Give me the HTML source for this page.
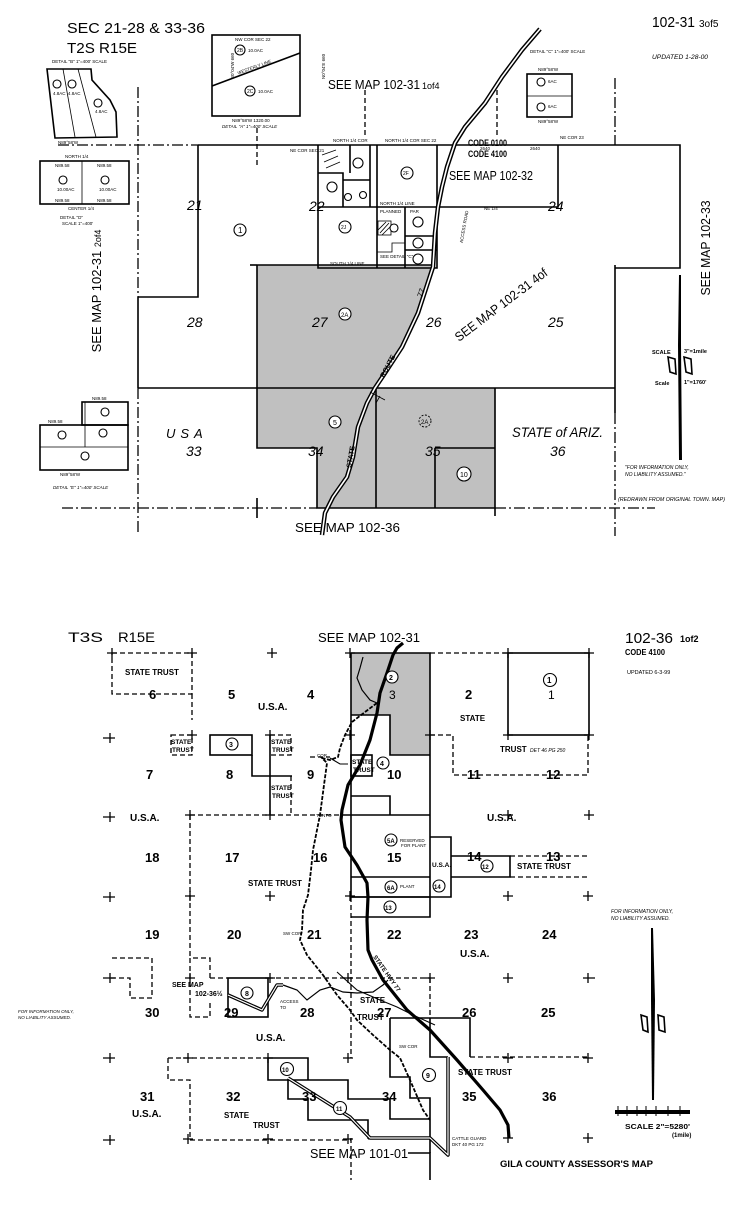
<!DOCTYPE html>
<html><head><meta charset="utf-8">
<style>
html,body{margin:0;padding:0;background:#fff;}
svg{display:block;}
text{font-family:"Liberation Sans",sans-serif;fill:#000;}
</style></head><body>
<svg width="750" height="1219" viewBox="0 0 750 1219" xmlns="http://www.w3.org/2000/svg">
<defs><style>
.l{stroke:#000;stroke-width:1.6;fill:none}
.d{stroke:#000;stroke-width:1.3;fill:none;stroke-dasharray:5 3}
.dd{stroke:#000;stroke-width:1.3;fill:none;stroke-dasharray:11 3 2 3}
.t{stroke:#000;stroke-width:0.8;fill:none}
.c{stroke:#000;stroke-width:1.1;fill:#fff}
.s{font-size:4.5px}
.n{font-size:14px;font-style:italic}
.b{font-size:13px;font-weight:bold}
.st{font-size:8px;font-weight:bold}
</style></defs>
<rect width="750" height="1219" fill="#fff"/>

<!-- ================= TOP MAP ================= -->
<polygon points="257,265 433,265 432,270 418,313 402,347 385,373 375,388 495,388 495,508 317,508 317,448 257,448" fill="#c0c0c0"/>

<text x="67" y="33" font-size="15" textLength="138" lengthAdjust="spacingAndGlyphs">SEC 21-28 &amp; 33-36</text>
<text x="67" y="53" font-size="15" textLength="70" lengthAdjust="spacingAndGlyphs">T2S R15E</text>
<text x="652" y="27" font-size="15" textLength="43" lengthAdjust="spacingAndGlyphs">102-31</text>
<text x="699" y="27" font-size="10">3of5</text>
<text x="652" y="59" font-size="6" font-style="italic" textLength="56" lengthAdjust="spacingAndGlyphs">UPDATED 1-28-00</text>
<text x="328" y="89" font-size="13" textLength="92" lengthAdjust="spacingAndGlyphs">SEE MAP 102-31</text>
<text x="422" y="89" font-size="9">1of4</text>

<!-- detail A -->
<rect x="212" y="35" width="88" height="81" class="l" stroke-width="1.2"/>
<line x1="212" y1="86" x2="300" y2="53" class="l" stroke-width="1.1"/>
<circle cx="240" cy="50" r="5" class="c"/><text x="237" y="52" font-size="5">2B</text>
<circle cx="250" cy="91" r="5" class="c"/><text x="247" y="93" font-size="5">2C</text>
<text x="248" y="52" class="s">10.0AC</text><text x="258" y="93" class="s">10.0AC</text>
<text x="235" y="41" class="s">NW COR SEC 22</text>
<text x="237" y="72" class="s" transform="rotate(-20 245 70)">WESTERLY LINE</text>
<text x="232" y="122" class="s">N89°58'W 1320.00</text>
<text x="222" y="128" class="s" font-style="italic">DETAIL "A" 1"=400' SCALE</text>
<text x="205" y="100" class="s" transform="rotate(-90 209 75)">S0°04'W 660</text>
<text x="296" y="100" class="s" transform="rotate(-90 300 75)">N0°04'E 660</text>

<!-- detail B -->
<text x="52" y="63" class="s">DETAIL "B"  1"=400' SCALE</text>
<polygon points="47,69 91,69 92,80 110,100 116,112 117,137 55,138" class="l" stroke-width="1.1"/>
<line x1="63" y1="69" x2="75" y2="137" class="t"/><line x1="78" y1="69" x2="96" y2="137" class="t"/>
<circle cx="57" cy="84" r="4" class="c"/><circle cx="72" cy="84" r="4" class="c"/><circle cx="98" cy="103" r="4" class="c"/>
<text x="53" y="95" class="s">4.8AC</text><text x="68" y="95" class="s">4.8AC</text><text x="95" y="113" class="s">4.8AC</text>
<text x="58" y="144" class="s">N89°58'W</text>

<!-- detail D -->
<rect x="40" y="161" width="89" height="43" class="l" stroke-width="1.1"/>
<line x1="82" y1="161" x2="82" y2="204" class="t"/>
<circle cx="63" cy="180" r="4" class="c"/><circle cx="105" cy="180" r="4" class="c"/>
<text x="57" y="191" class="s">10.00AC</text><text x="99" y="191" class="s">10.00AC</text>
<text x="55" y="167" class="s">N89.58</text><text x="97" y="167" class="s">N89.58</text>
<text x="55" y="202" class="s">N89.58</text><text x="97" y="202" class="s">N89.58</text>
<text x="65" y="158" class="s">NORTH 1/4</text><text x="68" y="210" class="s">CENTER 1/4</text>
<text x="60" y="219" class="s">DETAIL "D"</text><text x="62" y="225" class="s">SCALE 1"=400'</text>

<!-- detail C -->
<text x="530" y="53" class="s">DETAIL "C" 1"=400' SCALE</text>
<rect x="527" y="74" width="45" height="43" class="l" stroke-width="1.1"/>
<line x1="527" y1="96" x2="572" y2="96" class="t"/>
<circle cx="541" cy="82" r="4" class="c"/><circle cx="541" cy="107" r="4" class="c"/>
<text x="548" y="83" class="s">6AC</text><text x="548" y="108" class="s">6AC</text>
<text x="538" y="71" class="s">N89°58'W</text><text x="538" y="123" class="s">N89°58'W</text>

<!-- detail E -->
<rect x="82" y="402" width="46" height="23" class="l" stroke-width="1.1"/>
<rect x="40" y="425" width="88" height="45" class="l" stroke-width="1.1"/>
<line x1="40" y1="447" x2="128" y2="447" class="t"/>
<line x1="85" y1="402" x2="85" y2="447" class="t"/>
<circle cx="105" cy="412" r="4" class="c"/><circle cx="62" cy="435" r="4" class="c"/>
<circle cx="103" cy="433" r="4" class="c"/><circle cx="85" cy="456" r="4" class="c"/>
<text x="48" y="423" class="s">N89.58</text><text x="92" y="400" class="s">N89.58</text>
<text x="60" y="476" class="s">N89°58'W</text>
<text x="53" y="489" class="s" font-style="italic">DETAIL "E" 1"=400' SCALE</text>

<!-- main lines -->
<path d="M58,145 H198" class="dd"/>
<path d="M198,145 H680 V268 H615" class="l"/>
<path d="M615,78 V145" class="dd"/>
<path d="M615,265 V413" class="l"/>
<path d="M615,413 V536" class="dd"/>
<path d="M198,145 V297 H138" class="l"/>
<path d="M138,87 V297" class="dd"/>
<path d="M138,297 V388" class="l"/>
<path d="M138,388 V535" class="dd"/>
<path d="M257,128 V167" class="d"/>
<path d="M497,90 V135" class="d"/>
<path d="M365,90 V135" class="d"/>
<path d="M257,265 H433" class="l"/>
<path d="M257,265 V448 H317 V508 H495 V388" class="l"/>
<path d="M138,388 H615" class="l"/>
<path d="M376,388 V508" class="l"/>
<path d="M435,448 H495 M435,448 V508" class="l"/>
<path d="M495,508 V516" class="l"/>
<path d="M62,508 H317" class="dd"/>
<path d="M495,508 H655" class="dd"/>
<path d="M257,498 V518" class="l" stroke-width="1"/>
<path d="M250,265 H257" class="l"/>

<!-- section 22 -->
<path d="M318,145 V268 H437 V145" class="l"/>
<path d="M318,207 H558 V145" class="l"/>
<path d="M377,145 V268 M405,207 V268 M405,236 H437 M405,250 H437" class="l" stroke-width="1.1"/>
<path d="M350,145 V173 M318,173 H343 V207 M343,180 H370 V207 M370,145 V207" class="l" stroke-width="1"/>
<path d="M377,252 H392 V243 H405" class="t"/>
<rect x="378" y="221" width="13" height="14" class="t"/>
<path d="M380,233 L389,223 M382,235 L391,226 M378,230 L386,222" class="t"/>
<path d="M322,155 L336,150 M324,162 L338,156 M326,168 L340,162" class="t"/>
<circle cx="358" cy="163" r="5" class="c"/><circle cx="332" cy="187" r="5" class="c"/>
<circle cx="348" cy="197" r="3.5" class="c"/><circle cx="363" cy="195" r="3.5" class="c"/>
<circle cx="345" cy="227" r="6" class="c"/><text x="341" y="229" font-size="5">2J</text>
<circle cx="407" cy="173" r="6" class="c"/><text x="403" y="175" font-size="5">2F</text>
<circle cx="394" cy="228" r="4" class="c"/>
<circle cx="418" cy="222" r="5" class="c"/><circle cx="418" cy="243" r="5" class="c"/><circle cx="418" cy="259" r="5" class="c"/>
<text x="380" y="258" class="s">SEE DETAIL "C"</text>
<text x="333" y="142" class="s">NORTH 1/4 COR</text><text x="385" y="142" class="s">NORTH 1/4 COR SEC 22</text>
<text x="290" y="152" class="s">NE COR SEC 21</text>
<text x="560" y="139" class="s">NE COR 23</text>
<text x="480" y="150" class="s">2640</text><text x="530" y="150" class="s">2640</text>
<text x="484" y="210" class="s">NE 1/4</text>
<text x="380" y="205" class="s">NORTH 1/4 LINE</text>
<text x="380" y="213" class="s">PLANNED</text><text x="410" y="213" class="s">PAR</text>
<text x="330" y="265" class="s">SOUTH 1/4 LINE</text>
<text x="445" y="258" class="s" transform="rotate(-80 445 240)">ACCESS ROAD</text>

<text x="468" y="146" font-size="9" font-weight="bold" textLength="39" lengthAdjust="spacingAndGlyphs">CODE 0100</text>
<text x="468" y="157" font-size="9" font-weight="bold" textLength="39" lengthAdjust="spacingAndGlyphs">CODE 4100</text>
<text x="449" y="180" font-size="12.5" textLength="84" lengthAdjust="spacingAndGlyphs">SEE MAP 102-32</text>

<!-- top road -->
<polyline points="540,29 522,50 502,77 485,103 465,127 455,143 447,167 442,187 438,207 435,233 433,267 432,270 418,313 402,347 385,373 375,388 367,403 358,427 353,457 347,477 333,497 325,513 322,535" fill="none" stroke="#000" stroke-width="4.5" stroke-linejoin="round"/>
<polyline points="540,29 522,50 502,77 485,103 465,127 455,143 447,167 442,187 438,207 435,233 433,267 432,270 418,313 402,347 385,373 375,388 367,403 358,427 353,457 347,477 333,497 325,513 322,535" fill="none" stroke="#fff" stroke-width="1.6" stroke-linejoin="round"/>
<path d="M370,392 L385,400 M380,396 L376,403" class="t"/>

<!-- top labels -->
<text x="187" y="210" class="n">21</text>
<circle cx="240" cy="230" r="6" class="c"/><text x="238" y="233" font-size="8">1</text>
<text x="309" y="211" class="n">22</text>
<text x="548" y="211" class="n">24</text>
<text x="187" y="327" class="n">28</text>
<text x="312" y="327" class="n">27</text>
<circle cx="345" cy="314" r="6" class="c"/><text x="341" y="317" font-size="6">2A</text>
<text x="426" y="327" class="n">26</text>
<text x="548" y="327" class="n">25</text>
<text x="418" y="298" font-size="8" transform="rotate(-70 420 295)">77</text>
<text font-size="13" transform="translate(459,342) rotate(-37)" textLength="112" lengthAdjust="spacingAndGlyphs">SEE MAP 102-31 4of</text>
<text font-size="7" font-weight="bold" transform="translate(384,378) rotate(-62)">ROUTE</text>
<text font-size="7" font-weight="bold" transform="translate(351,468) rotate(-80)">STATE</text>
<text x="166" y="438" font-size="13" font-style="italic" letter-spacing="5">USA</text>
<text x="186" y="456" class="n">33</text>
<circle cx="335" cy="422" r="6" class="c"/><text x="333" y="425" font-size="7">5</text>
<text x="308" y="456" class="n">34</text>
<circle cx="425" cy="421" r="6" fill="none" stroke="#000" stroke-width="0.9" stroke-dasharray="2 1.5"/><text x="421" y="424" font-size="6">2A</text>
<text x="425" y="456" class="n">35</text>
<text x="512" y="437" font-size="14" font-style="italic" textLength="91" lengthAdjust="spacingAndGlyphs">STATE of ARIZ.</text>
<text x="550" y="456" class="n">36</text>
<circle cx="464" cy="474" r="7" class="c"/><text x="460" y="477" font-size="7">10</text>

<text font-size="13" transform="translate(710,248) rotate(-90)" text-anchor="middle" textLength="95" lengthAdjust="spacingAndGlyphs">SEE MAP 102-33</text>
<text font-size="13" transform="translate(101,291) rotate(-90)" text-anchor="middle">SEE MAP 102-31 <tspan font-size="9">2of4</tspan></text>
<text x="295" y="532" font-size="12.5" textLength="105" lengthAdjust="spacingAndGlyphs">SEE MAP 102-36</text>

<!-- top scale -->
<path d="M679,275 L681,275 L681,345 L682,460 L679,460 L678,345 Z" fill="#000"/>
<path d="M668,357 L675,359 L676,374 L670,372 Z M684,357 L691,359 L692,374 L686,372 Z" class="l" stroke-width="1.1"/>
<text x="652" y="354" font-size="5.5" font-weight="bold">SCALE</text>
<text x="684" y="353" font-size="5.5" font-weight="bold">3"=1mile</text>
<text x="655" y="385" font-size="5.5" font-weight="bold">Scale</text>
<text x="684" y="384" font-size="5.5" font-weight="bold">1"=1760'</text>
<text x="625" y="469" font-size="5" font-style="italic">"FOR INFORMATION ONLY,</text>
<text x="625" y="476" font-size="5" font-style="italic">NO LIABILITY ASSUMED."</text>
<text x="618" y="501" font-size="5.2" font-style="italic" textLength="107" lengthAdjust="spacingAndGlyphs">(REDRAWN FROM ORIGINAL TOWN. MAP)</text>

<!-- ================= BOTTOM MAP ================= -->
<polygon points="351,653 430,653 430,755 390,755 390,715 351,715" fill="#c0c0c0"/>

<text x="68" y="642" font-size="14" textLength="35" lengthAdjust="spacingAndGlyphs">T3S</text>
<text x="118" y="642" font-size="14" textLength="37" lengthAdjust="spacingAndGlyphs">R15E</text>
<text x="318" y="642" font-size="12.5" textLength="102" lengthAdjust="spacingAndGlyphs">SEE MAP 102-31</text>
<text x="625" y="643" font-size="15" textLength="48" lengthAdjust="spacingAndGlyphs">102-36</text>
<text x="680" y="642" font-size="9" font-weight="bold">1of2</text>
<text x="625" y="655" font-size="8" font-weight="bold" textLength="40" lengthAdjust="spacingAndGlyphs">CODE 4100</text>
<text x="627" y="674" font-size="5.5">UPDATED   6-3-99</text>

<!-- solid lines -->
<path d="M351,653 H430 V897" class="l"/>
<path d="M351,653 V897" class="l"/>
<path d="M351,715 H390 V755 H430" class="l"/>
<rect x="351" y="755" width="21" height="21" class="l"/>
<path d="M351,796 H390 V815" class="l"/>
<path d="M340,815 H430" class="l"/>
<path d="M351,877 H430 M351,897 H451 V837 H430" class="l"/>
<path d="M451,856 H510 V877 H451" class="l"/>
<path d="M510,856 H590 M510,877 H590" class="d"/>
<path d="M430,653 H508" class="d"/>
<rect x="508" y="653" width="81" height="82" class="l"/>
<path d="M430,735 H453 V775 H588 V735" class="d"/>
<rect x="112" y="653" width="80" height="41" class="d"/>
<rect x="171" y="735" width="21" height="20" class="d"/>
<rect x="210" y="735" width="42" height="20" class="l"/>
<path d="M252,755 V776 H292" class="l"/>
<path d="M270,735 V815" class="l"/>
<path d="M270,735 H291 V755 H270 M291,776 V815" class="d"/>
<path d="M190,815 H340" class="d"/>
<path d="M190,815 V958" class="d"/>
<path d="M310,757 H330" class="d"/>
<path d="M192,694 V720" class="d"/>

<path d="M351,897 V1058" class="d"/>
<path d="M351,897 H430 V917 H351" class="l"/>
<path d="M210,978 V958 H190 V1017 H210 V1000" class="d"/>
<path d="M210,978 H228 M268,978 H430" class="d"/>
<rect x="228" y="978" width="40" height="39" class="l"/>
<path d="M112,958 H152 V998 H130 V978 H108" class="d"/>
<path d="M430,978 V1018" class="d"/>
<path d="M390,1018 H470 V1057 M390,1018 V1077 H410 V1098 H430 V1138" class="l"/>
<path d="M430,1018 V1057 H448" class="l"/>
<path d="M470,1057 H590" class="d"/>
<path d="M168,1058 H268" class="d"/>
<path d="M168,1058 V1080 H190 V1140 H351" class="d"/>
<path d="M268,1058 H308 V1080 M268,1058 V1080 H348 V1099 H390 V1119 H430" class="l"/>
<path d="M288,1080 V1099 H308 V1120 H368 V1138 H430" class="l"/>
<path d="M368,1138 H430" stroke="#000" stroke-width="3" fill="none"/>
<path d="M351,1138 V1180" class="d"/>
<path d="M408,1153 H430 V1180" class="l" stroke-width="1.2"/>
<path d="M430,1138 V1153" class="l"/>

<!-- plus marks -->
<path stroke="#000" stroke-width="1.3" fill="none" d="
M107,653h10M112,648v10 M187,653h10M192,648v10 M267,653h10M272,648v10 M345,653h10M350,648v10 M503,653h10M508,648v10 M584,653h10M589,648v10
M103,738h12M110,733v10 M187,735h10M192,730v10 M265,735h10M270,730v10 M345,735h10M350,730v10 M425,735h10M430,730v10 M503,735h10M508,730v10 M584,735h10M589,730v10
M103,817h12M110,812v10 M185,815h10M190,810v10 M265,815h10M270,810v10 M503,815h10M508,810v10 M584,815h10M589,810v10
M103,897h12M110,892v10 M185,896h10M190,891v10 M265,896h10M270,891v10 M345,896h10M350,891v10 M503,896h10M508,891v10 M583,896h10M588,891v10
M103,978h12M110,973v10 M185,978h10M190,973v10 M265,978h10M270,973v10 M343,978h10M348,973v10 M425,978h10M430,973v10 M503,978h10M508,973v10 M583,978h12M588,973v10
M103,1058h12M110,1053v10 M183,1058h10M188,1053v10 M263,1058h10M268,1053v10 M343,1058h10M348,1053v10 M503,1058h10M508,1053v10 M583,1058h10M588,1053v10
M103,1140h12M110,1135v10 M183,1139h10M188,1134v10 M263,1139h10M268,1134v10 M343,1139h10M348,1134v10 M503,1138h10M508,1133v10 M583,1138h10M588,1133v10"/>

<!-- rivers / roads -->
<polyline points="363,657 360,668 357,678 362,690 370,700 377,703" fill="none" stroke="#000" stroke-width="1.2"/>
<polyline points="377,703 365,712 352,722 345,735 340,748 338,757 330,760 322,758 327,763 324,785 322,800 320,815 316,835 313,850 311,870 308,895 303,910 302,930 300,940 307,955 323,975 337,995 350,1010 357,1020 373,1035 390,1050 400,1058 410,1080 423,1110 430,1120" fill="none" stroke="#000" stroke-width="1.8" stroke-dasharray="4 1.5"/>
<polyline points="283,985 297,990 307,1000 320,990 330,987 343,992 357,993 373,992 383,985 388,980" fill="none" stroke="#000" stroke-width="1.2"/>
<polyline points="337,972 357,990 380,1000 397,1007 413,1015 435,1025" fill="none" stroke="#000" stroke-width="1.1"/>
<polyline points="330,758 340,764 348,764" fill="none" stroke="#000" stroke-width="1.1"/>
<g fill="none" stroke-linejoin="round">
<polyline points="228,995 262,1010 277,985 283,985" stroke="#000" stroke-width="3.5"/>
<polyline points="228,995 262,1010 277,985 283,985" stroke="#fff" stroke-width="1.2"/>
<polyline points="288,1078 323,1100 350,1117 370,1138 430,1138 448,1155 448,1057" stroke="#000" stroke-width="3.5"/>
<polyline points="288,1078 323,1100 350,1117 370,1138 430,1138 448,1155 448,1057" stroke="#fff" stroke-width="1.2"/>
</g>
<polyline points="403,643 397,648 393,655 387,673 380,693 377,713 370,740 360,765 348,785 342,810 341,820 345,847 357,865 367,883 368,897 367,920 368,950 372,960 383,980 407,1010 430,1030 457,1060 483,1090 500,1110 508,1125 509,1138" fill="none" stroke="#000" stroke-width="3.2" stroke-linejoin="round"/>

<!-- bottom labels -->
<text x="125" y="675" class="st">STATE TRUST</text>
<text x="149" y="699" class="b">6</text>
<text x="228" y="699" class="b">5</text>
<text x="307" y="699" class="b">4</text>
<text x="258" y="710" font-size="10" font-weight="bold">U.S.A.</text>
<text x="389" y="699" font-size="12">3</text>
<circle cx="392" cy="677" r="6" class="c"/><text x="389" y="680" font-size="7" font-weight="bold">2</text>
<text x="465" y="699" class="b">2</text>
<circle cx="550" cy="680" r="6.5" class="c"/><text x="547" y="683" font-size="8" font-weight="bold">1</text>
<text x="548" y="699" font-size="12">1</text>
<text x="460" y="721" class="st">STATE</text>
<text x="500" y="752" class="st">TRUST</text>
<text x="530" y="752" font-size="5" font-style="italic">DET 46 PG 250</text>
<text x="467" y="779" class="b">11</text>
<text x="546" y="779" class="b">12</text>
<text x="171" y="744" font-size="6.5" font-weight="bold">STATE</text><text x="172" y="752" font-size="6.5" font-weight="bold">TRUST</text>
<text x="271" y="744" font-size="6.5" font-weight="bold">STATE</text><text x="272" y="752" font-size="6.5" font-weight="bold">TRUST</text>
<text x="271" y="790" font-size="6.5" font-weight="bold">STATE</text><text x="272" y="798" font-size="6.5" font-weight="bold">TRUST</text>
<text x="352" y="764" font-size="6.5" font-weight="bold">STATE</text><text x="353" y="772" font-size="6.5" font-weight="bold">TRUST</text>
<circle cx="232" cy="744" r="6" class="c"/><text x="229" y="747" font-size="7" font-weight="bold">3</text>
<circle cx="383" cy="763" r="6" class="c"/><text x="380" y="766" font-size="7" font-weight="bold">4</text>
<text x="146" y="779" class="b">7</text>
<text x="226" y="779" class="b">8</text>
<text x="307" y="779" class="b">9</text>
<text x="387" y="779" class="b">10</text>
<text x="130" y="821" font-size="10" font-weight="bold">U.S.A.</text>
<text x="487" y="821" font-size="10" font-weight="bold">U.S.A.</text>
<text x="145" y="862" class="b">18</text>
<text x="225" y="862" class="b">17</text>
<text x="313" y="862" class="b">16</text>
<text x="387" y="862" class="b">15</text>
<text x="248" y="886" class="st">STATE TRUST</text>
<text x="467" y="861" class="b">14</text>
<text x="546" y="861" class="b">13</text>
<text x="432" y="867" font-size="6.5" font-weight="bold">U.S.A.</text>
<text x="517" y="869" class="st">STATE TRUST</text>
<circle cx="391" cy="840" r="6" class="c"/><text x="387" y="843" font-size="6" font-weight="bold">5A</text>
<circle cx="391" cy="887" r="6" class="c"/><text x="387" y="890" font-size="6" font-weight="bold">6A</text>
<circle cx="439" cy="886" r="6" class="c"/><text x="434" y="889" font-size="6" font-weight="bold">14</text>
<circle cx="487" cy="866" r="6" class="c"/><text x="482" y="869" font-size="6" font-weight="bold">12</text>
<circle cx="390" cy="907" r="6" class="c"/><text x="385" y="910" font-size="6" font-weight="bold">13</text>
<text x="400" y="842" class="s">RESERVED</text><text x="401" y="847" class="s">FOR PLANT</text>
<text x="400" y="888" class="s">PLANT</text>
<text x="316" y="817" class="s">TONTO</text>
<text x="317" y="757" class="s">COR</text>

<text x="145" y="939" class="b">19</text>
<text x="227" y="939" class="b">20</text>
<text x="307" y="939" class="b">21</text>
<text x="387" y="939" class="b">22</text>
<text x="464" y="939" class="b">23</text>
<text x="542" y="939" class="b">24</text>
<text x="460" y="957" font-size="10" font-weight="bold">U.S.A.</text>
<text x="283" y="935" class="s">SW COR</text>
<text x="145" y="1017" class="b">30</text>
<text x="224" y="1017" class="b">29</text>
<text x="300" y="1017" class="b">28</text>
<text x="377" y="1017" class="b">27</text>
<text x="462" y="1017" class="b">26</text>
<text x="541" y="1017" class="b">25</text>
<text x="360" y="1003" class="st">STATE</text>
<text x="357" y="1020" class="st">TRUST</text>
<text x="172" y="987" font-size="7" font-weight="bold">SEE MAP</text>
<text x="195" y="996" font-size="7" font-weight="bold">102-36½</text>
<circle cx="247" cy="993" r="6" class="c"/><text x="245" y="996" font-size="7" font-weight="bold">8</text>
<text x="280" y="1003" class="s">ACCESS</text><text x="280" y="1009" class="s">TO</text>
<text x="256" y="1041" font-size="10" font-weight="bold">U.S.A.</text>
<text x="140" y="1101" class="b">31</text>
<text x="226" y="1101" class="b">32</text>
<text x="132" y="1117" font-size="10" font-weight="bold">U.S.A.</text>
<text x="224" y="1118" class="st">STATE</text>
<text x="253" y="1128" class="st">TRUST</text>
<text x="302" y="1101" class="b">33</text>
<text x="382" y="1101" class="b">34</text>
<text x="462" y="1101" class="b">35</text>
<text x="542" y="1101" class="b">36</text>
<text x="458" y="1075" class="st">STATE TRUST</text>
<circle cx="287" cy="1069" r="6.5" class="c"/><text x="282" y="1072" font-size="6" font-weight="bold">10</text>
<circle cx="340" cy="1108" r="6.5" class="c"/><text x="336" y="1111" font-size="6" font-weight="bold">11</text>
<circle cx="429" cy="1075" r="6.5" class="c"/><text x="426" y="1078" font-size="7" font-weight="bold">9</text>
<text x="399" y="1048" class="s">SW COR</text>
<text x="452" y="1140" class="s">CATTLE GUARD</text><text x="452" y="1146" class="s">DKT 40 PG 172</text>
<text font-size="6" font-weight="bold" transform="translate(373,957) rotate(55)">STATE HWY 77</text>

<text x="310" y="1158" font-size="12.5" textLength="98" lengthAdjust="spacingAndGlyphs">SEE MAP 101-01</text>
<text x="500" y="1167" font-size="9" font-weight="bold" textLength="153" lengthAdjust="spacingAndGlyphs">GILA COUNTY ASSESSOR'S MAP</text>

<!-- bottom scale -->
<path d="M651,928 L653,928 L655,1000 L654,1100 L652,1100 L651,1000 Z" fill="#000"/>
<path d="M641,1015 L647,1017 L648,1032 L643,1030 Z M658,1015 L664,1017 L665,1032 L659,1030 Z" class="l" stroke-width="1.1"/>
<rect x="615" y="1110" width="75" height="4" fill="#000"/>
<path d="M618,1106v10 M627,1106v10 M637,1106v10 M646,1106v10 M656,1106v10 M668,1106v10 M680,1106v10" stroke="#000" stroke-width="1"/>
<text x="625" y="1129" font-size="7.5" font-weight="bold" textLength="65" lengthAdjust="spacingAndGlyphs">SCALE 2"=5280'</text>
<text x="672" y="1137" font-size="6" font-weight="bold">(1mile)</text>
<text x="611" y="913" font-size="5" font-style="italic">FOR INFORMATION ONLY,</text>
<text x="611" y="920" font-size="5" font-style="italic">NO LIABILITY ASSUMED.</text>
<text x="18" y="1013" font-size="4.5" font-style="italic">FOR INFORMATION ONLY,</text>
<text x="18" y="1019" font-size="4.5" font-style="italic">NO LIABILITY ASSUMED.</text>
</svg>
</body></html>
